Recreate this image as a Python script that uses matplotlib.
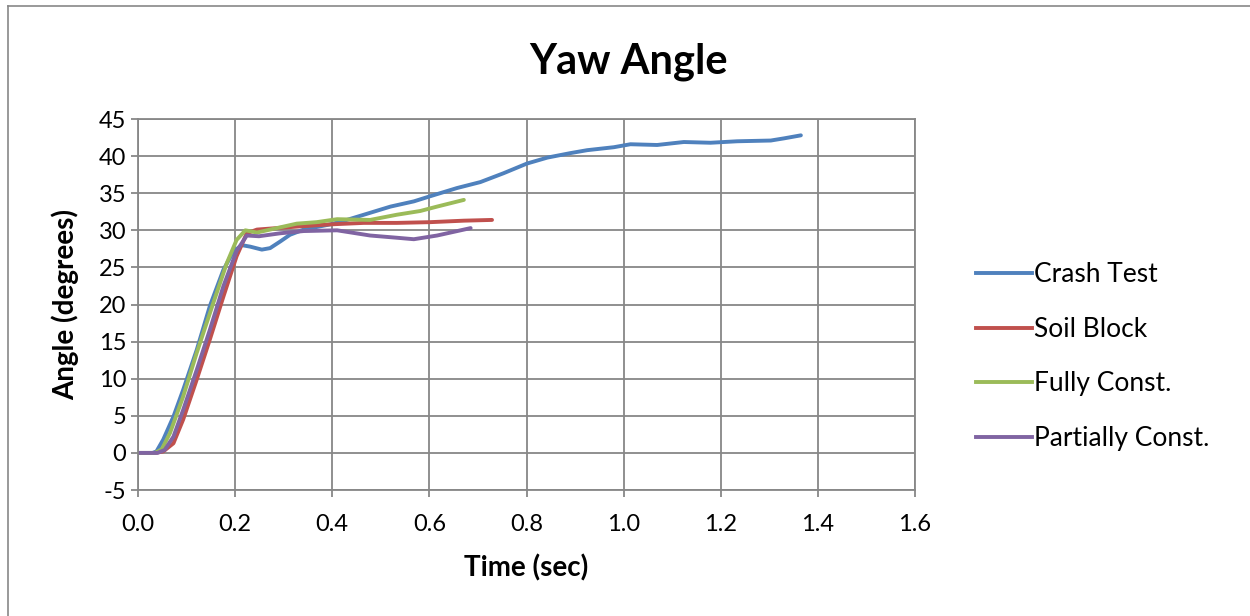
import matplotlib.pyplot as plt
from matplotlib.lines import Line2D

plt.rcParams['font.family'] = ['Lato', 'DejaVu Sans']
plt.rcParams['axes.unicode_minus'] = False

# yaw angle histories (time in sec, angle in degrees)
crash_t = [0.0, 0.030, 0.038, 0.052, 0.073, 0.093, 0.121, 0.148, 0.176, 0.197, 0.214, 0.231,
           0.255, 0.272, 0.293, 0.313, 0.341, 0.396, 0.430, 0.465, 0.520, 0.568, 0.602,
           0.657, 0.705, 0.753, 0.801, 0.843, 0.890, 0.925, 0.980, 1.014, 1.069, 1.124,
           1.179, 1.234, 1.303, 1.331, 1.365]
crash_a = [0.0, 0.0, 0.2, 1.8, 4.9, 8.5, 13.9, 19.8, 24.7, 27.2, 28.0, 27.8,
           27.4, 27.6, 28.5, 29.4, 30.1, 30.8, 31.4, 32.1, 33.2, 33.9, 34.6,
           35.7, 36.5, 37.7, 39.0, 39.8, 40.4, 40.8, 41.2, 41.6, 41.5, 41.9,
           41.8, 42.0, 42.1, 42.4, 42.8]

soil_t = [0.0, 0.035, 0.052, 0.073, 0.093, 0.121, 0.148, 0.176, 0.203, 0.224, 0.245,
          0.327, 0.396, 0.465, 0.533, 0.602, 0.671, 0.729]
soil_a = [0.0, 0.0, 0.2, 1.3, 4.5, 9.9, 15.3, 21.1, 26.5, 29.6, 30.1,
          30.5, 30.8, 31.0, 31.0, 31.1, 31.3, 31.4]

fully_t = [0.0, 0.035, 0.049, 0.066, 0.093, 0.121, 0.155, 0.183, 0.203, 0.221, 0.245,
           0.272, 0.327, 0.368, 0.410, 0.478, 0.533, 0.581, 0.616, 0.671]
fully_a = [0.0, 0.0, 0.5, 2.7, 7.6, 13.5, 20.2, 25.6, 28.7, 30.0, 29.7,
           30.1, 30.9, 31.1, 31.5, 31.4, 32.1, 32.6, 33.2, 34.1]

partial_t = [0.0, 0.040, 0.055, 0.073, 0.093, 0.121, 0.148, 0.176, 0.203, 0.224, 0.249,
             0.293, 0.341, 0.410, 0.478, 0.533, 0.568, 0.616, 0.685]
partial_a = [0.0, 0.0, 0.4, 2.2, 5.8, 11.2, 16.6, 22.5, 27.2, 29.3, 29.2,
             29.6, 29.9, 30.0, 29.3, 29.0, 28.8, 29.3, 30.3]

names = ['Crash Test', 'Soil Block', 'Fully Const.', 'Partially Const.']
colors = ['#4F81BD', '#C0504D', '#9BBB59', '#8064A2']

fig = plt.figure(figsize=(12.5, 6.16), dpi=100)
ax = fig.add_axes([0.1104, 0.2045, 0.6216, 0.6023])

series = [(crash_t, crash_a), (soil_t, soil_a), (fully_t, fully_a), (partial_t, partial_a)]
for (t, a), c in zip(series, colors):
    ax.plot(t, a, color=c, lw=2.8, solid_capstyle='round', solid_joinstyle='round')

ax.set_xlim(0, 1.6)
ax.set_ylim(-5, 45)
ax.set_xticks([i * 0.2 for i in range(9)])
ax.set_xticklabels(['%.1f' % (i * 0.2) for i in range(9)])
ax.set_yticks(range(-5, 46, 5))
ax.grid(True, color='#878787', lw=1.3)
ax.set_axisbelow(True)
for s in ax.spines.values():
    s.set_color('#878787')
    s.set_linewidth(1.3)
ax.tick_params(colors='#878787', labelcolor='black', labelsize=17, length=5, width=1.3)
ax.tick_params(axis='x', pad=12)

ax.set_xlabel('Time (sec)', fontsize=20, fontweight='bold', labelpad=14)
ax.set_ylabel('Angle (degrees)', fontsize=20, fontweight='bold', labelpad=14)
fig.text(0.503, 0.900, 'Yaw Angle', ha='center', va='center', fontsize=30, fontweight='bold')

handles = [Line2D([], [], color=c, lw=2.8) for c in colors]
fig.legend(handles, names, loc='upper left', bbox_to_anchor=(0.7726, 0.5915),
           frameon=False, fontsize=19, handlelength=2.1, handletextpad=0.08,
           labelspacing=1.12, borderaxespad=0)

# outer chart border
fig.add_artist(Line2D([8 / 1250, 8 / 1250], [0, 1 - 6 / 616], color='#878787', lw=1.2,
                      transform=fig.transFigure))
fig.add_artist(Line2D([8 / 1250, 1], [1 - 6 / 616, 1 - 6 / 616], color='#878787', lw=1.2,
                      transform=fig.transFigure))

fig.savefig('out.png', dpi=100)
